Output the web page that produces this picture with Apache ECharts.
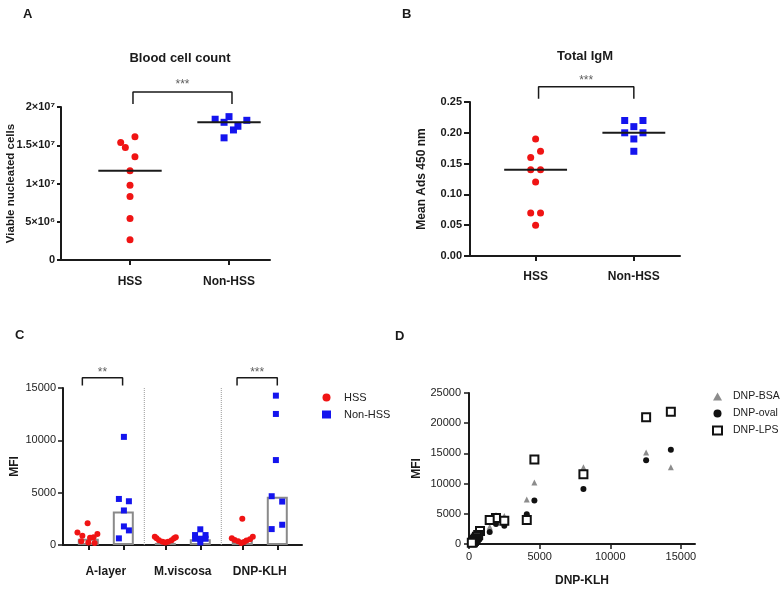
<!DOCTYPE html>
<html>
<head>
<meta charset="utf-8">
<script src="https://cdn.jsdelivr.net/npm/echarts@6/dist/echarts.min.js"></script>
<style>html,body{margin:0;padding:0;background:#fff;}#chart{width:782px;height:590px;}</style>
</head>
<body>
<div id="chart"></div>
<script>
// ---------- DATA ----------
const groupNames = ['HSS', 'Non-HSS'];
// Panel A: blood cell count
const aHSS = [16.1e6, 15.36e6, 14.7e6, 13.5e6, 11.67e6, 9.76e6, 8.29e6, 5.42e6, 2.65e6];
const aHSSJitter = [0.05, -0.094, -0.047, 0.05, 0, 0, 0, 0, 0];
const aNon = [18.4e6, 18.0e6, 18.74e6, 17.0e6, 17.48e6, 18.26e6, 15.97e6];
const aNonJitter = [-0.14, -0.05, 0, 0.045, 0.09, 0.18, -0.05];
const aMedian = [11.67e6, 18.0e6];
const aTicks = [0, 5e6, 1e7, 1.5e7, 2e7];
const aTickLabels = ['0', '5×10⁶', '1×10⁷', '1.5×10⁷', '2×10⁷'];
// Panel B: total IgM
const bHSS = [0.19, 0.17, 0.16, 0.14, 0.14, 0.12, 0.07, 0.07, 0.05];
const bHSSJitter = [0, 0.05, -0.05, -0.05, 0.05, 0, -0.05, 0.05, 0];
const bNon = [0.22, 0.22, 0.21, 0.20, 0.20, 0.19, 0.17];
const bNonJitter = [-0.093, 0.093, 0, -0.093, 0.093, 0, 0];
const bMedian = [0.14, 0.20];
// Panel C: MFI per antigen
const cAntigens = ['A-layer', 'M.viscosa', 'DNP-KLH'];
const cHSS = [
  [2080, 1200, 1050, 880, 750, 700, 350, 250, 200],
  [800, 650, 450, 300, 250, 300, 450, 650, 750],
  [2500, 780, 650, 560, 480, 420, 350, 280, 200]
];
const cHSSJitter = [
  [-0.02, -0.31, 0.26, -0.17, 0.15, 0.05, -0.2, 0, 0.18],
  [-0.3, -0.25, -0.18, -0.08, 0, 0.08, 0.18, 0.25, 0.3],
  [0, 0.3, -0.3, 0.22, -0.22, 0.12, -0.12, 0.05, -0.03]
];
const cNon = [
  [10330, 4400, 4180, 3300, 1775, 1395, 634],
  [1500, 950, 950, 600, 600, 600, 250],
  [14270, 12520, 8115, 4660, 4150, 1935, 1520]
];
const cNonJitter = [
  [0.017, -0.126, 0.16, 0.017, 0.017, 0.16, -0.126],
  [0, -0.15, 0.15, -0.15, 0, 0.15, 0],
  [-0.04, -0.04, -0.04, -0.16, 0.14, 0.14, -0.16]
];
const cBarHSS = [600, 200, 500];
const cBarNon = [3200, 550, 4600];
// Panel D: DNP-KLH vs other DNP conjugates
const dKLH = [14290, 12540, 8100, 4630, 4090, 1910, 1465, 2500, 780, 650, 560, 480, 420, 350, 280, 200];
const dBSA = [12720, 15150, 12720, 10180, 7350, 4800, 2875, 4650, 1500, 1200, 1000, 800, 600, 500, 300, 200];
const dOval = [15590, 13880, 9125, 7190, 4920, 3320, 1990, 3040, 900, 800, 600, 500, 400, 300, 200, 100];
const dLPS = [21900, 21000, 11560, 13990, 3980, 4310, 3980, 3870, 2160, 1500, 1200, 900, 700, 500, 300, 200];
const dNames = ['DNP-BSA', 'DNP-oval', 'DNP-LPS'];

// ---------- LAYOUT / STYLE ----------
const FONT = "'Liberation Sans', Arial, Helvetica, sans-serif";
const RED = '#f01414', BLUE = '#1414ee', INK = '#1a1a1a';
const catPos = [1, 2];
const cPosHSS = [0, 2.2, 4.4], cPosNon = [1, 3.2, 5.4], cLabelPos = [0.5, 2.7, 4.9];

const chart = echarts.init(document.getElementById('chart'), null, {renderer: 'canvas'});

function pts(vals, jit, center) { return vals.map((v, i) => [center + jit[i], v]); }
function medianLine(idx, pos, med, hw) {
  return {type: 'line', xAxisIndex: idx, yAxisIndex: idx, data: [[pos - hw, med], [pos + hw, med]],
    symbol: 'none', lineStyle: {color: INK, width: 2}, z: 5, silent: true};
}
function bracket(idx, x1, x2, yTop, yDrop, yStar, text) {
  return [
    {type: 'line', xAxisIndex: idx, yAxisIndex: idx, clip: false, symbol: 'none', silent: true,
      data: [[x1, yDrop], [x1, yTop], [x2, yTop], [x2, yDrop]], lineStyle: {color: INK, width: 1.5}},
    {type: 'scatter', xAxisIndex: idx, yAxisIndex: idx, clip: false, symbolSize: 1, silent: true,
      itemStyle: {color: 'rgba(0,0,0,0)'}, data: [[(x1 + x2) / 2, yStar]],
      label: {show: true, position: 'inside', formatter: text, color: '#333', fontSize: 12, fontFamily: FONT}}
  ];
}
const axisLineBold = {onZero: false, lineStyle: {color: INK, width: 2}};
const plain = v => String(v);

const series = [];
// Panel A
series.push({type: 'scatter', name: 'HSS', xAxisIndex: 0, yAxisIndex: 0, symbol: 'circle', symbolSize: 7,
  itemStyle: {color: RED, opacity: 1}, data: pts(aHSS, aHSSJitter, catPos[0])});
series.push({type: 'scatter', name: 'Non-HSS', xAxisIndex: 0, yAxisIndex: 0, symbol: 'rect', symbolSize: 7,
  itemStyle: {color: BLUE, opacity: 1}, data: pts(aNon, aNonJitter, catPos[1])});
aMedian.forEach((m, i) => series.push(medianLine(0, catPos[i], m, 0.32)));
series.push(...bracket(0, 1.03, 2.03, 2.196e7, 2.04e7, 2.29e7, '***'));
// Panel B
series.push({type: 'scatter', name: 'HSS', xAxisIndex: 1, yAxisIndex: 1, symbol: 'circle', symbolSize: 7,
  itemStyle: {color: RED, opacity: 1}, data: pts(bHSS, bHSSJitter, catPos[0])});
series.push({type: 'scatter', name: 'Non-HSS', xAxisIndex: 1, yAxisIndex: 1, symbol: 'rect', symbolSize: 7,
  itemStyle: {color: BLUE, opacity: 1}, data: pts(bNon, bNonJitter, catPos[1])});
bMedian.forEach((m, i) => series.push(medianLine(1, catPos[i], m, 0.32)));
series.push(...bracket(1, 1.03, 2.0, 0.2748, 0.2553, 0.284, '***'));
// Panel C
series.push({type: 'bar', xAxisIndex: 2, yAxisIndex: 2, barWidth: 21, silent: true, z: 1,
  itemStyle: {color: 'rgba(0,0,0,0)', borderColor: '#8a8a8a', borderWidth: 2},
  data: cBarHSS.map((v, i) => [cPosHSS[i], v]).concat(cBarNon.map((v, i) => [cPosNon[i], v]))});
[1.6, 3.8].forEach(x => series.push({type: 'line', xAxisIndex: 2, yAxisIndex: 2, symbol: 'none', silent: true,
  data: [[x, 0], [x, 15000]], lineStyle: {color: '#9a9a9a', width: 1, type: [1, 1]}}));
series.push({type: 'scatter', name: 'HSS', xAxisIndex: 2, yAxisIndex: 2, symbol: 'circle', symbolSize: 6, z: 3,
  itemStyle: {color: RED, opacity: 1}, data: [].concat(...cHSS.map((arr, g) => pts(arr, cHSSJitter[g], cPosHSS[g])))});
series.push({type: 'scatter', name: 'Non-HSS', xAxisIndex: 2, yAxisIndex: 2, symbol: 'rect', symbolSize: 6, z: 3,
  itemStyle: {color: BLUE, opacity: 1}, data: [].concat(...cNon.map((arr, g) => pts(arr, cNonJitter[g], cPosNon[g])))});
series.push(...bracket(2, -0.17, 0.98, 15990, 15230, 16450, '**'));
series.push(...bracket(2, 4.25, 5.4, 15990, 15230, 16450, '***'));
// Panel D
series.push({type: 'scatter', name: dNames[0], xAxisIndex: 3, yAxisIndex: 3, symbol: 'triangle', symbolSize: 6,
  itemStyle: {color: '#8c8c8c', opacity: 1}, data: dKLH.map((x, i) => [x, dBSA[i]])});
series.push({type: 'scatter', name: dNames[1], xAxisIndex: 3, yAxisIndex: 3, symbol: 'circle', symbolSize: 6,
  itemStyle: {color: '#111', opacity: 1}, data: dKLH.map((x, i) => [x, dOval[i]])});
series.push({type: 'scatter', name: dNames[2], xAxisIndex: 3, yAxisIndex: 3, symbol: 'rect', symbolSize: 8,
  itemStyle: {color: '#fff', borderColor: '#111', borderWidth: 2, opacity: 1}, data: dKLH.map((x, i) => [x, dLPS[i]])});

const boldLbl = {fontFamily: FONT, fontWeight: 'bold', fontSize: 11, color: INK};
const regLbl = {fontFamily: FONT, fontSize: 11, color: '#222'};
const ttl = (text, left, top, extra) => Object.assign({text, left, top, padding: 0,
  textStyle: {fontFamily: FONT, fontSize: 13, fontWeight: 'bold', color: INK}}, extra || {});

const option = {
  animation: false,
  backgroundColor: '#fff',
  textStyle: {fontFamily: FONT},
  title: [
    ttl('A', 23, 8), ttl('B', 402, 8), ttl('C', 15, 329), ttl('D', 395, 330),
    ttl('Blood cell count', 180, 52, {textAlign: 'center'}),
    ttl('Total IgM', 585, 50, {textAlign: 'center'})
  ],
  legend: [
    {data: groupNames, orient: 'vertical', left: 322, top: 392, padding: 0, itemWidth: 9, itemHeight: 8, itemGap: 6,
      textStyle: {fontFamily: FONT, fontSize: 11, color: '#222', padding: [0, 0, 0, 8]}, selectedMode: false},
    {data: dNames, orient: 'vertical', left: 712, top: 391, padding: 0, itemWidth: 9, itemHeight: 8, itemGap: 6,
      textStyle: {fontFamily: FONT, fontSize: 10.5, color: '#222', padding: [0, 0, 0, 6]}, selectedMode: false}
  ],
  grid: [
    {left: 61, top: 107, width: 209, height: 153},
    {left: 470, top: 102, width: 210, height: 154},
    {left: 63, top: 388, width: 239, height: 157},
    {left: 469, top: 393, width: 226, height: 151}
  ],
  xAxis: [
    {gridIndex: 0, type: 'value', min: 0.303, max: 2.414, splitLine: {show: false}, axisLine: axisLineBold,
      axisTick: {customValues: catPos, length: 5, lineStyle: {color: INK, width: 2}},
      axisLabel: Object.assign({customValues: catPos, margin: 16, formatter: v => groupNames[Math.round(v) - 1]}, boldLbl, {fontSize: 12})},
    {gridIndex: 1, type: 'value', min: 0.332, max: 2.47, splitLine: {show: false}, axisLine: axisLineBold,
      axisTick: {customValues: catPos, length: 5, lineStyle: {color: INK, width: 2}},
      axisLabel: Object.assign({customValues: catPos, margin: 15, formatter: v => groupNames[Math.round(v) - 1]}, boldLbl, {fontSize: 12})},
    {gridIndex: 2, type: 'value', min: -0.723, max: 6.106, splitLine: {show: false}, axisLine: axisLineBold,
      axisTick: {customValues: cPosHSS.concat(cPosNon), length: 5, lineStyle: {color: INK, width: 2}},
      axisLabel: Object.assign({customValues: cLabelPos, margin: 21,
        formatter: v => cAntigens[cLabelPos.findIndex(p => Math.abs(p - v) < 0.01)]}, boldLbl, {fontSize: 12})},
    {gridIndex: 3, type: 'value', min: 0, max: 16000, splitLine: {show: false}, axisLine: axisLineBold,
      name: 'DNP-KLH', nameLocation: 'middle', nameGap: 31, nameMoveOverlap: false,
      nameTextStyle: {fontFamily: FONT, fontWeight: 'bold', fontSize: 12, color: INK},
      axisTick: {customValues: [0, 5000, 10000, 15000], length: 5, lineStyle: {color: INK, width: 1.5}},
      axisLabel: Object.assign({customValues: [0, 5000, 10000, 15000], margin: 7, formatter: plain}, regLbl)}
  ],
  yAxis: [
    {gridIndex: 0, type: 'value', min: 0, max: 2e7, interval: 5e6, splitLine: {show: false}, axisLine: axisLineBold,
      name: 'Viable nucleated cells', nameLocation: 'middle', nameGap: 44, nameMoveOverlap: false,
      nameTextStyle: {fontFamily: FONT, fontWeight: 'bold', fontSize: 11.5, color: INK},
      axisTick: {show: true, length: 4, lineStyle: {color: INK, width: 2}},
      axisLabel: Object.assign({margin: 6, formatter: v => aTickLabels[aTicks.indexOf(v)]}, boldLbl)},
    {gridIndex: 1, type: 'value', min: 0, max: 0.25, interval: 0.05, splitLine: {show: false}, axisLine: axisLineBold,
      name: 'Mean Ads 450 nm', nameLocation: 'middle', nameGap: 42, nameMoveOverlap: false,
      nameTextStyle: {fontFamily: FONT, fontWeight: 'bold', fontSize: 12, color: INK},
      axisTick: {show: true, length: 6, lineStyle: {color: INK, width: 2}},
      axisLabel: Object.assign({margin: 8, formatter: v => v.toFixed(2)}, boldLbl)},
    {gridIndex: 2, type: 'value', min: 0, max: 15000, interval: 5000, splitLine: {show: false}, axisLine: axisLineBold,
      name: 'MFI', nameLocation: 'middle', nameGap: 42, nameMoveOverlap: false,
      nameTextStyle: {fontFamily: FONT, fontWeight: 'bold', fontSize: 12, color: INK},
      axisTick: {show: true, length: 5, lineStyle: {color: INK, width: 1.5}},
      axisLabel: Object.assign({margin: 7, formatter: plain}, regLbl)},
    {gridIndex: 3, type: 'value', min: 0, max: 25000, interval: 5000, splitLine: {show: false}, axisLine: axisLineBold,
      name: 'MFI', nameLocation: 'middle', nameGap: 46, nameMoveOverlap: false,
      nameTextStyle: {fontFamily: FONT, fontWeight: 'bold', fontSize: 12, color: INK},
      axisTick: {show: true, length: 5, lineStyle: {color: INK, width: 1.5}},
      axisLabel: Object.assign({margin: 8, formatter: plain}, regLbl)}
  ],
  series: series
};
chart.setOption(option);
</script>
</body>
</html>
